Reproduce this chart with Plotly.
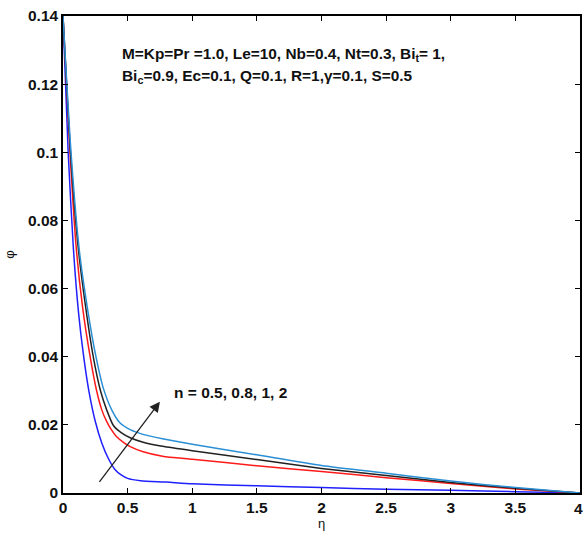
import plotly.graph_objects as go

eta_blue = [0, 0.04, 0.08, 0.12, 0.16, 0.2, 0.25, 0.3, 0.35, 0.4, 0.45, 0.5, 0.6, 0.8, 1.0, 1.5, 2.0, 2.5, 3.0, 3.5, 4.0]
phi_blue = [0.14, 0.10, 0.072, 0.053, 0.040, 0.030, 0.021, 0.0147, 0.0102, 0.0070, 0.0053, 0.0043, 0.0036, 0.0032, 0.0027, 0.0021, 0.0016, 0.0011, 0.0008, 0.0004, 0.0]

eta_red = [0, 0.054, 0.10, 0.15, 0.21, 0.26, 0.30, 0.333, 0.37, 0.415, 0.47, 0.52, 0.62, 0.77, 1.0, 1.5, 2.0, 2.5, 3.0, 3.5, 4.0]
phi_red = [0.14, 0.10, 0.073, 0.055, 0.040, 0.030, 0.0244, 0.0214, 0.0188, 0.0165, 0.0148, 0.0136, 0.0121, 0.0108, 0.0099, 0.0080, 0.0063, 0.0045, 0.0028, 0.0012, 0.0]

eta_black = [0, 0.058, 0.115, 0.17, 0.234, 0.29, 0.338, 0.39, 0.45, 0.52, 0.62, 0.77, 1.0, 1.5, 2.0, 2.5, 3.0, 3.5, 4.0]
phi_black = [0.14, 0.10, 0.073, 0.056, 0.040, 0.030, 0.0244, 0.0198, 0.0177, 0.0162, 0.0149, 0.0137, 0.0124, 0.0098, 0.0072, 0.0051, 0.0031, 0.0014, 0.0]

eta_lblue = [0, 0.062, 0.126, 0.19, 0.255, 0.31, 0.377, 0.44, 0.52, 0.62, 0.77, 1.0, 1.5, 2.0, 2.5, 3.0, 3.5, 4.0]
phi_lblue = [0.14, 0.10, 0.0713, 0.054, 0.040, 0.031, 0.0244, 0.0206, 0.0186, 0.0172, 0.0159, 0.0143, 0.0112, 0.0081, 0.0058, 0.0035, 0.0016, 0.0]

series = [
    ("n=0.5", eta_blue, phi_blue, "#2020ff"),
    ("n=0.8", eta_red, phi_red, "#ff1a1a"),
    ("n=1", eta_black, phi_black, "#222222"),
    ("n=2", eta_lblue, phi_lblue, "#2a8fd4"),
]

x_ticks = [0, 0.5, 1, 1.5, 2, 2.5, 3, 3.5, 4]
x_tick_labels = ["0", "0.5", "1", "1.5", "2", "2.5", "3", "3.5", "4"]
y_ticks = [0, 0.02, 0.04, 0.06, 0.08, 0.1, 0.12, 0.14]
y_tick_labels = ["0", "0.02", "0.04", "0.06", "0.08", "0.1", "0.12", "0.14"]

FONT = "Arial, Liberation Sans"
TICKFONT = dict(family=FONT, size=15.5, color="#111", weight="bold")

fig = go.Figure()
for name, x, y, c in series:
    fig.add_trace(go.Scatter(x=x, y=y, mode="lines", name=name,
                             line=dict(color=c, width=1.5, shape="spline", smoothing=0.6)))

axis_common = dict(showline=True, linecolor="black", linewidth=1.5, mirror="ticks",
                   ticks="inside", ticklen=5, tickwidth=1.3, tickcolor="black",
                   showgrid=False, zeroline=False, automargin=False, tickfont=TICKFONT)

annotations = [
    dict(x=0.44, y=0.1288, xref="x", yref="y", xanchor="left", yanchor="middle", showarrow=False,
         text="M=Kp=Pr =1.0, Le=10, Nb=0.4, Nt=0.3, Bi<sub>t</sub>= 1,",
         font=dict(family=FONT, size=15.4, color="#111", weight="bold")),
    dict(x=0.44, y=0.1221, xref="x", yref="y", xanchor="left", yanchor="middle", showarrow=False,
         text="Bi<sub>c</sub>=0.9, Ec=0.1, Q=0.1, R=1,γ=0.1, S=0.5",
         font=dict(family=FONT, size=15.4, color="#111", weight="bold")),
    dict(x=0.84, y=0.0294, xref="x", yref="y", xanchor="left", yanchor="middle", showarrow=False,
         text="n = 0.5, 0.8, 1, 2",
         font=dict(family=FONT, size=15.5, color="#111", weight="bold")),
    dict(x=0.75, y=0.0268, ax=0.273, ay=0.00285, xref="x", yref="y", axref="x", ayref="y",
         showarrow=True, arrowhead=2, arrowsize=1.6, arrowwidth=1.3, arrowcolor="#222", text=""),
]
# last x tick label sits at the page edge; plotly hides it, so draw it as an annotation
annotations.append(dict(x=x_ticks[-1], y=0, xref="x", yref="y", xanchor="center", yanchor="top",
                        yshift=-5, xshift=-2, showarrow=False, text=x_tick_labels[-1], font=TICKFONT))

fig.update_layout(
    width=583, height=534,
    margin=dict(l=63, r=3, t=16, b=41),
    paper_bgcolor="white", plot_bgcolor="white",
    showlegend=False,
    xaxis=dict(range=[0, 4], tickvals=x_ticks, ticktext=x_tick_labels,
               title=dict(text="η", font=dict(family=FONT, size=13, color="#111"), standoff=2),
               **axis_common),
    yaxis=dict(range=[0, 0.14], tickvals=y_ticks, ticktext=y_tick_labels,
               title=dict(text="φ", font=dict(family=FONT, size=13, color="#111"), standoff=10),
               **axis_common),
    annotations=annotations,
)

fig.write_html("out.html")
